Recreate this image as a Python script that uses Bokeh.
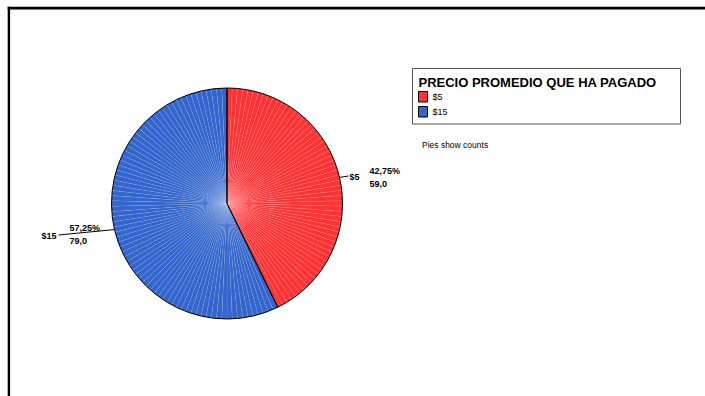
import math
from bokeh.plotting import figure
from bokeh.models import Range1d
from bokeh.embed import file_html
from bokeh.resources import INLINE
from bokeh.core.properties import value

# ---- data ----
categories = ["$5", "$15"]
counts = [59, 79]
colors = ["#FF3333", "#3366CC"]
legend_title = "PRECIO PROMEDIO QUE HA PAGADO"
note = "Pies show counts"

W, H = 705, 396
def Y(py):
    return H - py

p = figure(width=W, height=H, output_backend="svg", toolbar_location=None,
           x_range=Range1d(0, W), y_range=Range1d(0, H), min_border=0)
p.axis.visible = False
p.grid.visible = False
p.outline_line_color = None
p.background_fill_color = "white"
p.border_fill_color = "white"

FONT = value("Liberation Sans")

# frame (top and left edges)
p.quad(left=[7.2], right=[W], top=[Y(6.3)], bottom=[Y(8.9)],
       fill_color="black", line_color=None)
p.quad(left=[7.2], right=[9.6], top=[Y(6.3)], bottom=[0],
       fill_color="black", line_color=None)

# pie
cx, cy, R = 226.5, Y(203), 115.5
total = sum(counts)
unit = 2 * math.pi / total
start = math.pi / 2  # start at top, go clockwise
bounds = []
for cat, n, col in zip(categories, counts, colors):
    a0 = start
    a1 = start - n * unit
    # unit wedges (one per counted case) with faint separators
    ends = [a0 - k * unit for k in range(n + 1)]
    p.wedge(x=[cx] * n, y=[cy] * n, radius=R, radius_units="screen",
            start_angle=ends[1:], end_angle=ends[:-1],
            fill_color=col, line_color="white", line_alpha=0.16, line_width=0.5)
    bounds.append((a1, a0))
    start = a1

for a1, a0 in bounds:
    p.wedge(x=[cx], y=[cy], radius=R, radius_units="screen",
            start_angle=[a1], end_angle=[a0], fill_alpha=0,
            line_color="black", line_width=1)

# slice labels
pcts = [c / total * 100 for c in counts]
pct_txt = [("%.2f%%" % v).replace(".", ",") for v in pcts]
cnt_txt = [("%.1f" % c).replace(".", ",") for c in counts]

# $5 label (right side)
mid0 = math.pi / 2 - counts[0] * unit / 2
ex, ey = cx + R * math.cos(mid0), cy + R * math.sin(mid0)
p.line([ex, 348], [ey, Y(175.5)], line_color="black", line_width=1)
p.text(x=[349], y=[Y(176.5)], text=[categories[0]], text_font=FONT,
       text_font_style="bold", text_font_size="9px",
       text_baseline="middle", text_align="left", text_color="black")
p.text(x=[369, 369], y=[Y(170), Y(183)], text=[pct_txt[0], cnt_txt[0]],
       text_font=FONT, text_font_style="bold", text_font_size="9px",
       text_baseline="middle", text_align="left", text_color="black")

# $15 label (left side)
mid1 = math.pi / 2 - counts[0] * unit - counts[1] * unit / 2
ex, ey = cx + R * math.cos(mid1), cy + R * math.sin(mid1)
p.line([ex, 58], [ey, Y(234.5)], line_color="black", line_width=1)
p.text(x=[56], y=[Y(235)], text=[categories[1]], text_font=FONT,
       text_font_style="bold", text_font_size="9px",
       text_baseline="middle", text_align="right", text_color="black")
p.text(x=[69, 69], y=[Y(227), Y(240)], text=[pct_txt[1], cnt_txt[1]],
       text_font=FONT, text_font_style="bold", text_font_size="9px",
       text_baseline="middle", text_align="left", text_color="black")

# legend
p.quad(left=[412], right=[680], top=[Y(68)], bottom=[Y(123.5)],
       fill_color="white", line_color="#555555", line_width=1)
p.text(x=[418], y=[Y(82)], text=[legend_title], text_font=FONT,
       text_font_style="bold", text_font_size="13px",
       text_baseline="middle", text_align="left", text_color="black")
sw_tops = [91, 106]
for cat, col, t in zip(categories, colors, sw_tops):
    p.quad(left=[418], right=[427], top=[Y(t)], bottom=[Y(t + 10.5)],
           fill_color=col, line_color="black", line_width=1)
    p.text(x=[432], y=[Y(t + 5.5)], text=[cat], text_font=FONT,
           text_font_size="9px", text_baseline="middle", text_align="left",
           text_color="black")

p.text(x=[421.5], y=[Y(144)], text=[note], text_font=FONT,
       text_font_size="8.5px", text_baseline="middle", text_align="left",
       text_color="black")

open("out.html", "w").write(file_html(p, INLINE))
